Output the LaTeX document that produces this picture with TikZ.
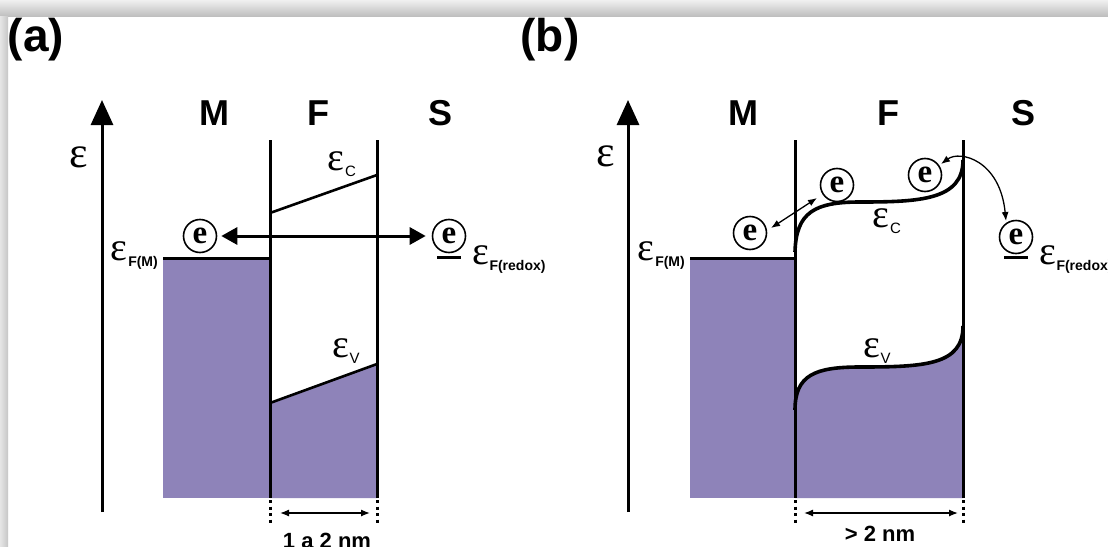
\documentclass[tikz,border=0pt]{standalone}
\usepackage{fontspec}
\setmainfont{Liberation Serif}
\newfontfamily\arialf{Liberation Sans}
\usetikzlibrary{arrows.meta}
\definecolor{bandfill}{RGB}{142,131,185}
\newcommand{\epsl}[2]{{\fontsize{40}{40}\selectfont ε}\kern0.5pt\raisebox{-6pt}{\arialf\fontsize{#2}{#2}\selectfont #1}}
\tikzset{
  panellab/.style={font=\arialf\bfseries\fontsize{46}{46}\selectfont, inner sep=0pt},
  regionlab/.style={font=\arialf\bfseries\fontsize{36}{36}\selectfont, inner sep=0pt},
  epslab/.style={font=\fontsize{44}{44}\selectfont, inner sep=0pt},
  sublab/.style={inner sep=0pt},
  dimlab/.style={font=\arialf\bfseries\fontsize{22}{22}\selectfont, inner sep=0pt},
  ecirc/.style={circle, draw, line width=1.6pt, minimum size=33pt, inner sep=0pt,
     font=\bfseries\fontsize{33}{33}\selectfont},
  axisline/.style={line width=3pt, -{Triangle[length=25pt,width=22pt]}},
  wall/.style={line width=3pt},
  bandline/.style={line width=2.6pt},
  bandcurve/.style={line width=3.6pt},
  fermiline/.style={line width=3pt},
  bigarrow/.style={line width=3pt, {Triangle[length=16pt,width=17pt]}-{Triangle[length=16pt,width=17pt]}},
  thinarrow/.style={line width=1.3pt, {Latex[length=9pt,width=7pt]}-{Latex[length=9pt,width=7pt]}},
  dotline/.style={line width=3pt, dash pattern=on 3pt off 3.5pt},
}
\begin{document}
\begin{tikzpicture}[x=1pt,y=-1pt]
\useasboundingbox (0,0) rectangle (1108,546);
\fill[white] (0,0) rectangle (1108,546);
\shade[top color=gray!12, bottom color=gray!50] (0,0) rectangle (1108,16);
\shade[left color=gray!20, right color=gray!45] (0,16) rectangle (8,546);
\begin{scope}
\clip (8,16) rectangle (1108,546);
% ---------------- panel (a) ----------------
\node[panellab] (alab) at (36,40) {(a)};
\coordinate (aax0) at (102,512);
\coordinate (aax1) at (102,100);
\draw[axisline] (aax0) -- (aax1);
\node[epslab] (aeps) at (79,157) {ε};
\node[regionlab] (aM) at (214,113) {M};
\node[regionlab] (aF) at (318,113) {F};
\node[regionlab] (aS) at (441,113) {S};
% metal
\fill[bandfill] (163,258) rectangle (270,498);
\draw[fermiline] (163,258) -- (270,258);
% film valence
\fill[bandfill] (270,403) -- (377,364) -- (377,498) -- (270,498) -- cycle;
\draw[bandline] (270,403) -- (377,364);
\draw[bandline] (270,213) -- (377,175);
% walls
\draw[wall] (270,140) -- (270,498);
\draw[wall] (377,140) -- (377,498);
\draw[dotline] (270,500) -- (270,524);
\draw[dotline] (377,500) -- (377,524);
\node[sublab] (aEc) at (342,164) {\epsl{C}{15}};
\node[sublab] (aEv) at (346,351) {\epsl{V}{15}};
\node[sublab, anchor=east] (aEfm) at (158,256) {\epsl{\bfseries F(M)}{14}};
\node[sublab, anchor=west] (aEfr) at (472,260) {\epsl{\bfseries F(redox)}{14}};
% electrons
\node[ecirc] (ae1) at (200,236) {e};
\node[ecirc] (ae2) at (449,236) {e};
\draw[fermiline] (437,257) -- (461,257);
\draw[bigarrow, shorten <=4pt, shorten >=6pt] (ae1) -- (ae2);
% dimension
\coordinate (ad1) at (270,513);
\coordinate (ad2) at (377,513);
\draw[thinarrow, shorten <=10pt, shorten >=7pt] (ad1) -- (ad2);
\node[dimlab] (adim) at (327,541) {1 a 2 nm};
% ---------------- panel (b) ----------------
\node[panellab] (blab) at (550,40) {(b)};
\coordinate (bax0) at (628,512);
\coordinate (bax1) at (628,100);
\draw[axisline] (bax0) -- (bax1);
\node[epslab] (beps) at (606,156) {ε};
\node[regionlab] (bM) at (743,113) {M};
\node[regionlab] (bF) at (888,113) {F};
\node[regionlab] (bS) at (1023,113) {S};
\fill[bandfill] (690,258) rectangle (795,498);
\draw[fermiline] (690,258) -- (795,258);
\fill[bandfill] (795,498) -- (795,410) .. controls (795,375) and (815,367) .. (860,367)
   .. controls (925,367) and (963,365) .. (963,326) -- (963,498) -- cycle;
\draw[bandcurve] (795,410) .. controls (795,375) and (815,367) .. (860,367)
   .. controls (925,367) and (963,365) .. (963,326);
\draw[bandcurve] (795,252) .. controls (796,212) and (815,202) .. (860,202)
   .. controls (920,202) and (963,200) .. (963,160);
\draw[wall] (795,140) -- (795,498);
\draw[wall] (963,140) -- (963,498);
\draw[dotline] (795,500) -- (795,524);
\draw[dotline] (963,500) -- (963,524);
\node[sublab] (bEc) at (887,221) {\epsl{C}{15}};
\node[sublab] (bEv) at (877,351) {\epsl{V}{15}};
\node[sublab, anchor=east] (bEfm) at (685,256) {\epsl{\bfseries F(M)}{14}};
\node[sublab, anchor=west] (bEfr) at (1039,260) {\epsl{\bfseries F(redox)}{14}};
\node[ecirc] (be1) at (750,233) {e};
\node[ecirc] (be2) at (837,185) {e};
\node[ecirc] (be3) at (925,175) {e};
\node[ecirc] (be4) at (1016,237) {e};
\draw[fermiline] (1004,257) -- (1028,257);
\coordinate (bt1) at (771,228);
\coordinate (bt2) at (817,198);
\draw[thinarrow] (bt1) -- (bt2);
\coordinate (bt3) at (941,164);
\coordinate (bt4) at (1006,221);
\draw[thinarrow] (bt3) .. controls (960,150) and (1000,160) .. (bt4);
\coordinate (bd1) at (795,513);
\coordinate (bd2) at (963,513);
\draw[thinarrow, shorten <=9pt, shorten >=5pt] (bd1) -- (bd2);
\node[dimlab] (bdim) at (880,534) {> 2 nm};
\end{scope}
\end{tikzpicture}
\end{document}
